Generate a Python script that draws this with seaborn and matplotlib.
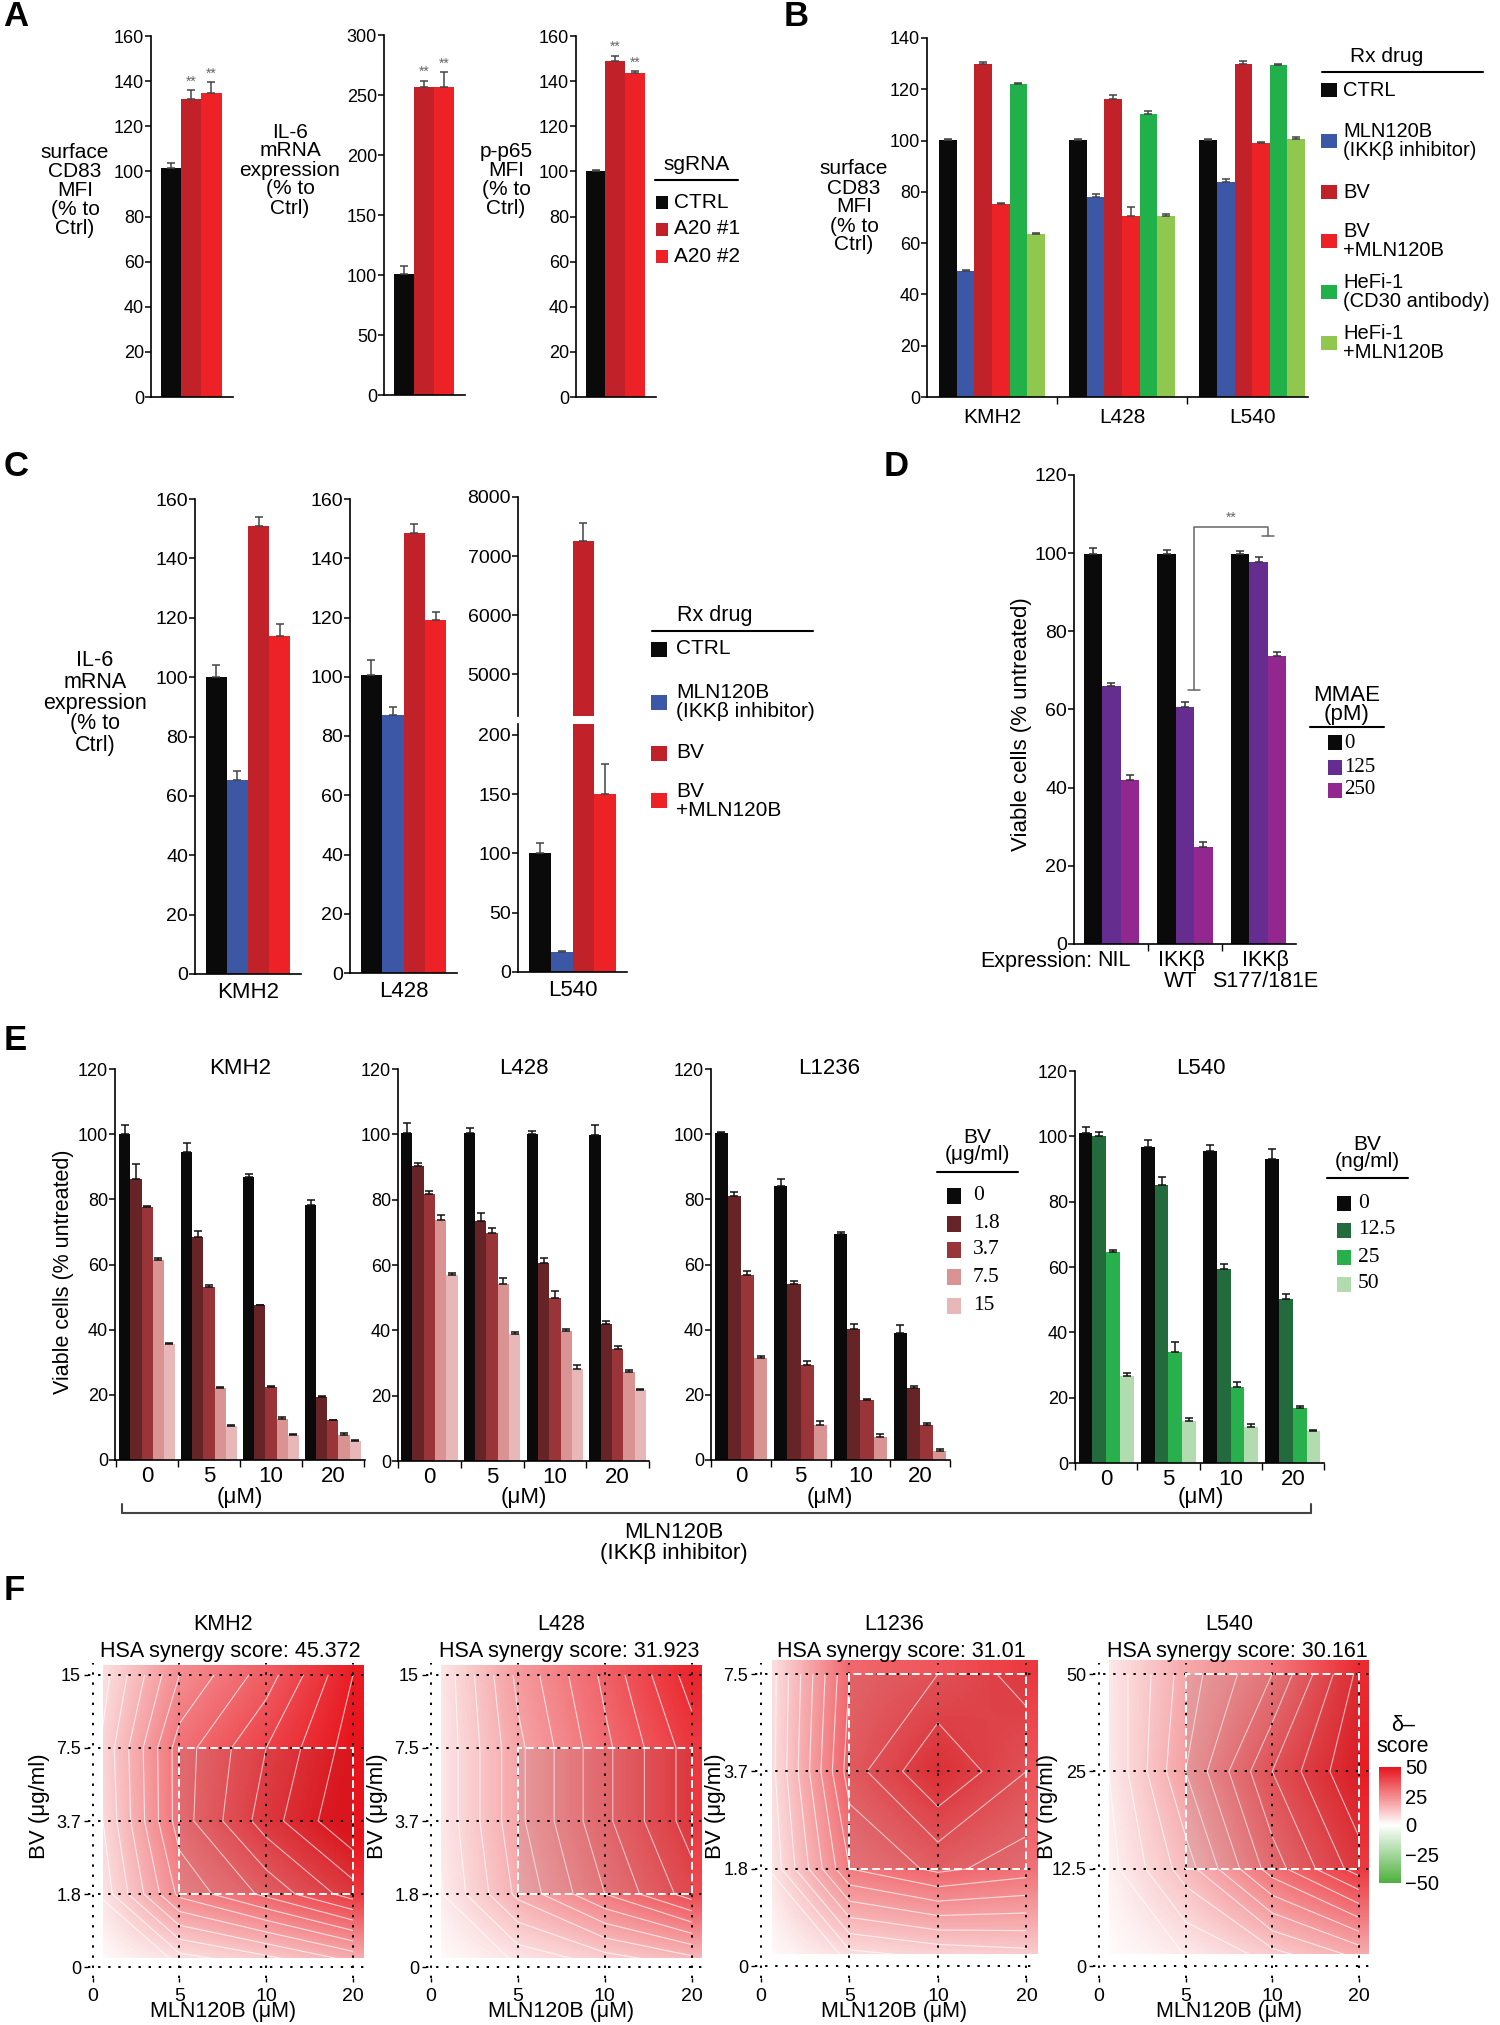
import numpy as np
import pandas as pd
import matplotlib
matplotlib.use("Agg")
import matplotlib.pyplot as plt
import seaborn as sns
from matplotlib.patches import Rectangle
from matplotlib.lines import Line2D
from matplotlib.container import BarContainer
from matplotlib.colors import LinearSegmentedColormap, Normalize
from matplotlib.cm import ScalarMappable

# ---------------- DATA ----------------
A_lines = ['CTRL', 'A20 #1', 'A20 #2']
A_cd83 = [101.6, 131.9, 134.9]
A_cd83_err = [1.9, 4.1, 4.8]
A_il6 = [100.6, 256.4, 256.4]
A_il6_err = [7.2, 5.6, 13.0]
A_pp65 = [100.0, 148.9, 143.4]
A_pp65_err = [0.7, 2.4, 0.9]

B_cells = ['KMH2', 'L428', 'L540']
B_drugs = ['CTRL', 'MLN120B\n(IKKβ inhibitor)', 'BV', 'BV\n+MLN120B',
           'HeFi-1\n(CD30 antibody)', 'HeFi-1\n+MLN120B']
B_values = [[100.1, 100.1, 100.1], [49.0, 78.0, 84.0], [129.9, 116.2, 129.7],
            [75.3, 70.5, 99.2], [121.9, 110.4, 129.5], [63.6, 70.5, 100.6]]
B_errors = [[0.4, 0.4, 0.4], [0.4, 1.0, 1.0], [0.7, 1.6, 1.5],
            [0.3, 3.5, 0.2], [0.5, 1.0, 0.5], [0.2, 0.7, 0.9]]

C_cells = ['KMH2', 'L428', 'L540']
C_drugs = ['CTRL', 'MLN120B\n(IKKβ inhibitor)', 'BV', 'BV\n+MLN120B']
C_values = [[100.2, 100.6, 100.0], [65.2, 87.0, 16.9], [150.9, 148.5, 7250.0], [113.9, 119.0, 150.0]]
C_errors = [[3.8, 5.1, 8.4], [3.3, 2.7, 0.9], [3.2, 2.9, 306.0], [4.1, 2.9, 25.0]]

D_expr = ['NIL', 'IKKβ\nWT', 'IKKβ\nS177/181E']
D_mmae = ['0', '125', '250']
D_values = [[99.8, 99.8, 99.8], [65.9, 60.6, 97.7], [41.9, 24.9, 73.8]]
D_errors = [[1.5, 0.9, 0.7], [0.8, 1.3, 1.2], [1.3, 1.2, 0.9]]

E_mln = ['0', '5', '10', '20']
E_bv_ug = ['0', '1.8', '3.7', '7.5', '15']
E_bv_ng = ['0', '12.5', '25', '50']
E_kmh2 = [[100.1, 94.4, 87.0, 78.3], [86.3, 68.5, 47.5, 19.3], [77.7, 53.0, 22.5, 12.2],
          [61.4, 22.1, 12.7, 7.6], [35.6, 10.4, 7.75, 5.8]]
E_kmh2_err = [[2.8, 3.0, 0.8, 1.5], [4.5, 1.8, 0.2, 0.3], [0.3, 0.8, 0.2, 0.2],
              [0.5, 0.3, 0.4, 0.6], [0.2, 0.3, 0.25, 0.2]]
E_l428 = [[100.4, 100.3, 100.2, 99.8], [90.3, 73.6, 60.5, 41.9], [81.6, 69.9, 49.8, 34.2],
          [73.9, 54.3, 39.8, 27.1], [56.9, 39.0, 28.2, 21.8]]
E_l428_err = [[3.0, 1.7, 0.7, 3.0], [0.8, 2.3, 1.6, 0.9], [1.1, 1.3, 2.1, 0.9],
              [1.3, 1.6, 0.7, 0.8], [0.8, 0.4, 1.2, 0.2]]
E_l1236 = [[100.4, 84.1, 69.3, 39.0], [81.0, 54.0, 40.2, 22.0], [56.7, 29.2, 18.3, 10.8],
           [31.3, 10.8, 7.2, 2.9]]
E_l1236_err = [[0.2, 2.1, 0.6, 2.3], [1.3, 1.0, 1.5, 0.6], [1.2, 1.3, 0.5, 0.6],
               [0.6, 1.1, 0.8, 0.5]]
E_l540 = [[100.9, 96.7, 95.6, 93.1], [100.2, 85.2, 59.3, 50.2], [64.7, 33.9, 23.3, 16.9],
          [26.7, 12.9, 11.0, 9.8]]
E_l540_err = [[1.9, 2.1, 1.6, 3.1], [1.2, 2.4, 1.7, 1.4], [0.6, 3.1, 1.4, 0.7],
              [0.7, 0.9, 0.8, 0.3]]

F_mln = ['0', '5', '10', '20']
F_bv_ug = ['0', '1.8', '3.7', '7.5', '15']
F_bv_l1236 = ['0', '1.8', '3.7', '7.5']
F_bv_ng = ['0', '12.5', '25', '50']
F_cells = ['KMH2', 'L428', 'L1236', 'L540']
F_scores = ['45.372', '31.923', '31.01', '30.161']
F_kmh2 = [[0, 4, 8, 14], [3, 25, 33, 42], [5, 30, 42, 52], [6, 30, 40, 50], [4, 24, 34, 48]]
F_l428 = [[0, 4, 8, 12], [2, 17, 28, 38], [3, 19, 31, 42], [3, 19, 31, 42], [3, 21, 33, 46]]
F_l1236 = [[0, 4, 6, 8], [2, 28, 33, 30], [3, 34, 44, 36], [3, 32, 36, 42]]
F_l540 = [[0, 3, 8, 14], [1, 14, 30, 42], [2, 20, 36, 48], [3, 18, 28, 45]]

# ---------------- STYLE ----------------
W, H = 1500, 2025
sns.set_theme(style='ticks')
COND = ['Liberation Sans Narrow', 'Liberation Sans', 'DejaVu Sans']
ARIAL = ['Liberation Sans', 'DejaVu Sans']
SERIF = ['Liberation Serif', 'DejaVu Serif']
plt.rcParams['font.family'] = COND
plt.rcParams.update({'axes.edgecolor': 'black', 'xtick.color': 'black', 'ytick.color': 'black',
                     'text.color': 'black', 'axes.labelcolor': 'black', 'axes.linewidth': 1.2})

fig = plt.figure(figsize=(15, 20.25), dpi=100)


def box(l, t, r, b):
    return fig.add_axes([l / W, 1 - b / H, (r - l) / W, (b - t) / H])


def T(x, y, s, **kw):
    kw.setdefault('ha', 'center')
    kw.setdefault('va', 'center')
    fig.text(x / W, 1 - y / H, s, **kw)


def hline(x0, x1, y, **kw):
    fig.add_artist(Line2D([x0 / W, x1 / W], [1 - y / H, 1 - y / H], transform=fig.transFigure, **kw))


def vline(x, y0, y1, **kw):
    fig.add_artist(Line2D([x / W, x / W], [1 - y0 / H, 1 - y1 / H], transform=fig.transFigure, **kw))


def square(x0, yc, w, h, c):
    fig.add_artist(Rectangle((x0 / W, 1 - (yc + h / 2) / H), w / W, h / H,
                             transform=fig.transFigure, facecolor=c, edgecolor='none'))


def bars(ax, groups, hues, vals, errs, colors, width, ecolor='#333'):
    rows = []
    for hi, h in enumerate(hues):
        for gi, g in enumerate(groups):
            rows.append(dict(group=g, hue=h, value=vals[hi][gi]))
    df = pd.DataFrame(rows)
    sns.barplot(data=df, x='group', y='value', hue='hue', order=groups, hue_order=hues,
                palette=dict(zip(hues, colors)), width=width, gap=0, saturation=1,
                errorbar=None, legend=False, linewidth=0, ax=ax)
    conts = [c for c in ax.containers if isinstance(c, BarContainer)]
    for hi, cont in enumerate(conts):
        for gi, p in enumerate(cont.patches):
            cx = p.get_x() + p.get_width() / 2
            ax.errorbar(cx, p.get_height(), yerr=[[0], [errs[hi][gi]]], fmt='none',
                        ecolor=ecolor, elinewidth=1.1, capsize=3, capthick=1.1)
    return conts


def style(ax, xlim, ylim, yticks, labelsize=13, fam=COND):
    ax.set_xlim(*xlim)
    ax.set_ylim(*ylim)
    ax.set_yticks(yticks)
    ax.set_xlabel('')
    ax.set_ylabel('')
    sns.despine(ax=ax)
    ax.set_facecolor('none')
    ax.tick_params(axis='y', direction='out', length=4, width=1.1, pad=1, labelsize=labelsize)
    for lab in ax.get_yticklabels():
        lab.set_fontfamily(fam)


def letter(x, y, s):
    T(x, y, s, fontsize=25, fontweight='bold', family=ARIAL)


# ---------------- PANEL A ----------------
letter(16, 17, 'A')
A_colors = ['#0a0a0a', '#c1222a', '#ec2227']
A_sets = [(A_cd83, A_cd83_err, (151, 36, 233, 397), (0, 160), range(0, 161, 20)),
          (A_il6, A_il6_err, (384, 35, 465, 395), (0, 300), range(0, 301, 50)),
          (A_pp65, A_pp65_err, (576, 36, 656, 397), (0, 160), range(0, 161, 20))]
for vals, errs, px, yl, yt in A_sets:
    ax = box(*px)
    conts = bars(ax, ['g'], A_lines, [[v] for v in vals], [[e] for e in errs], A_colors, 0.8, ecolor='#444')
    style(ax, (-0.53, 0.55), yl, list(yt), labelsize=13)
    ax.set_xticks([])
    for hi in (1, 2):
        p = conts[hi].patches[0]
        ax.annotate('**', (p.get_x() + p.get_width() / 2, vals[hi] + errs[hi]), xytext=(0, 1),
                    textcoords='offset points', ha='center', va='bottom', fontsize=10, color='#666')
T(75, 190, 'surface\nCD83\nMFI\n(% to\nCtrl)', fontsize=15, linespacing=1.0)
T(290, 170, 'IL-6\nmRNA\nexpression\n(% to\nCtrl)', fontsize=15, linespacing=1.0)
T(506, 180, 'p-p65\nMFI\n(% to\nCtrl)', fontsize=15, linespacing=1.0)
T(697, 164, 'sgRNA', fontsize=15)
hline(655, 738, 180, color='black', lw=1.5)
for y, lab, c in zip([202, 229, 256], A_lines, A_colors):
    square(656, y, 12, 13, c)
    T(674, y, lab, ha='left', fontsize=15)

# ---------------- PANEL B ----------------
letter(796, 17, 'B')
B_colors = ['#0a0a0a', '#3b57a6', '#c1222a', '#ec2227', '#22b04b', '#90c74f']
ax = box(927, 38, 1308, 397)
bars(ax, B_cells, B_drugs, B_values, B_errors, B_colors, 0.81, ecolor='#444')
style(ax, (-0.5, 2.43), (0, 140), list(range(0, 141, 20)), labelsize=13)
ax.set_xticks([0, 1, 2], B_cells)
ax.set_xticks([0.5, 1.5], minor=True)
ax.tick_params(axis='x', which='major', length=0, pad=8, labelsize=15)
ax.tick_params(axis='x', which='minor', length=5, width=1)
T(854, 207, 'surface\nCD83\nMFI\n(% to\nCtrl)', fontsize=15, linespacing=1.0)
T(1387, 56, 'Rx drug', fontsize=15)
hline(1322, 1483, 72, color='black', lw=1.5)
for y, lab, c in zip([90, 141, 192, 241, 292, 343], B_drugs, B_colors):
    square(1321, y, 16, 14, c)
    T(1343, y, lab, ha='left', fontsize=14.5, linespacing=1.0)

# ---------------- PANEL C ----------------
letter(16, 467, 'C')
C_colors = ['#0a0a0a', '#3b57a6', '#c1222a', '#ec2227']
for ci, (px, yl, yt) in enumerate([((195, 499, 301, 974), (0, 160), range(0, 161, 20)),
                                   ((350, 499, 457, 973), (0, 160), range(0, 161, 20))]):
    ax = box(*px)
    bars(ax, [C_cells[ci]], C_drugs, [[v[ci]] for v in C_values], [[e[ci]] for e in C_errors],
         C_colors, 0.8, ecolor='#444')
    style(ax, (-0.5, 0.5), yl, list(yt), labelsize=14)
    ax.tick_params(axis='x', length=0, pad=6, labelsize=16)
# L540 broken axis
axl = box(518, 724, 627, 972)
axu = box(518, 497, 627, 716)
for a in (axl, axu):
    bars(a, [C_cells[2]], C_drugs, [[v[2]] for v in C_values], [[e[2]] for e in C_errors],
         C_colors, 0.8, ecolor='#444')
style(axl, (-0.5, 0.5), (0, 209), [0, 50, 100, 150, 200], labelsize=14)
axl.tick_params(axis='x', length=0, pad=6, labelsize=16)
style(axu, (-0.5, 0.5), (4290, 8000), [5000, 6000, 7000, 8000], labelsize=14)
axu.spines['bottom'].set_visible(False)
axu.set_xticks([])
T(95, 703, 'IL-6\nmRNA\nexpression\n(% to\nCtrl)', fontsize=15.5, linespacing=1.0)
T(715, 616, 'Rx drug', fontsize=15.5)
hline(652, 813, 631, color='black', lw=1.5)
for y, lab, c in zip([649, 702, 753, 801], C_drugs, C_colors):
    square(651, y, 16, 15, c)
    T(676, y, lab, ha='left', fontsize=15, linespacing=1.0)

# ---------------- PANEL D ----------------
letter(896, 467, 'D')
D_colors = ['#0a0a0a', '#652d90', '#92278f']
ax = box(1074, 475, 1296, 944)
bars(ax, D_expr, D_mmae, D_values, D_errors, D_colors, 0.75, ecolor='#333')
style(ax, (-0.51, 2.51), (0, 120), list(range(0, 121, 20)), labelsize=14, fam=ARIAL)
ax.set_xticks([0, 1, 2], ['', '', ''])
ax.set_xticks([0.5, 1.5], minor=True)
ax.tick_params(axis='x', which='major', length=0)
ax.tick_params(axis='x', which='minor', length=5, width=1)
for xc, lab in zip([1114, 1181, 1265], D_expr):
    T(xc, 950, lab, va='top', fontsize=15.5, family=ARIAL, linespacing=1.0)
bw = 0.75 / 3
xl, xr = 1 + bw / 2, 2 + bw / 2
ax.plot([xl - 0.08, xl + 0.08], [65, 65], color='#666', lw=1.1)
ax.plot([xl, xl, xr, xr], [65, 106.6, 106.6, 104.5], color='#666', lw=1.1)
ax.plot([xr - 0.08, xr + 0.08], [104.5, 104.5], color='#666', lw=1.1)
ax.text((xl + xr) / 2, 107.2, '**', ha='center', va='bottom', fontsize=10, color='#666')
T(1021, 724, 'Viable cells (% untreated)', rotation=90, fontsize=16, family=ARIAL)
T(1092, 962, 'Expression:', ha='right', fontsize=15.5, family=ARIAL)
T(1347, 705, 'MMAE\n(pM)', fontsize=16, family=ARIAL, linespacing=0.9)
hline(1310, 1384, 727, color='black', lw=1.5)
for y, lab, c in zip([743, 767, 790], D_mmae, D_colors):
    square(1328, y, 14, 15, c)
    T(1344, y, lab, ha='left', fontsize=15, family=SERIF)

# ---------------- PANEL E ----------------
letter(15, 1040, 'E')
E_ug_colors = ['#0a0a0a', '#662426', '#993538', '#d99393', '#e8b7b7']
E_ng_colors = ['#0a0a0a', '#236a3d', '#28b04d', '#b2dcb0']
E_sets = [('KMH2', E_kmh2, E_kmh2_err, E_bv_ug, E_ug_colors, (115, 1069, 365, 1460), (-0.52, 3.52), 0.9),
          ('L428', E_l428, E_l428_err, E_bv_ug, E_ug_colors, (398, 1069, 649, 1461), (-0.48, 3.48), 0.9),
          ('L1236', E_l1236, E_l1236_err, E_bv_ug[:4], E_ug_colors[:4], (711, 1069, 950, 1460), (-0.42, 3.45), 0.88),
          ('L540', E_l540, E_l540_err, E_bv_ng, E_ng_colors, (1075, 1071, 1324, 1463), (-0.49, 3.46), 0.88)]
for name, vals, errs, hues, cols, px, xlim, wd in E_sets:
    ax = box(*px)
    bars(ax, E_mln, hues, vals, errs, cols, wd, ecolor='#111')
    style(ax, xlim, (0, 120), list(range(0, 121, 20)), labelsize=13)
    ax.set_xticks([0, 1, 2, 3], E_mln)
    ax.set_xticks([-0.5, 0.5, 1.5, 2.5, 3.5], minor=True)
    ax.tick_params(axis='x', which='major', length=0, pad=4, labelsize=16)
    ax.tick_params(axis='x', which='minor', length=5, width=1)
    fx = lambda d, px=px, xlim=xlim: px[0] + (d - xlim[0]) / (xlim[1] - xlim[0]) * (px[2] - px[0])
    T((fx(0) + fx(3)) / 2 + 0, 1069, name, fontsize=16)
    T((fx(0) + fx(3)) / 2, 1497, '(μM)', fontsize=16)
T(63, 1272, 'Viable cells (% untreated)', rotation=90, fontsize=15.5, family=ARIAL)
T(977, 1146, 'BV\n(μg/ml)', fontsize=15, linespacing=0.85)
hline(937, 1018, 1172, color='black', lw=1.5)
for y, lab, c in zip([1196, 1224, 1250, 1277, 1306], E_bv_ug, E_ug_colors):
    square(947, y, 14, 16, c)
    T(973, y, lab, ha='left', fontsize=15.5, family=SERIF)
T(1367, 1153, 'BV\n(ng/ml)', fontsize=15, linespacing=0.85)
hline(1327, 1408, 1178, color='black', lw=1.5)
for y, lab, c in zip([1203, 1230, 1257, 1284], E_bv_ng, E_ng_colors):
    square(1337, y, 14, 15, c)
    T(1358, y, lab, ha='left', fontsize=15.5, family=SERIF)
hline(122, 1311, 1513, color='#444', lw=1.5)
vline(122, 1504, 1513, color='#444', lw=1.5)
vline(1311, 1504, 1513, color='#444', lw=1.5)
T(674, 1543, 'MLN120B\n(IKKβ inhibitor)', fontsize=16, linespacing=1.05)

# ---------------- PANEL F ----------------
letter(14, 1590, 'F')
cmap = LinearSegmentedColormap.from_list('delta', ['#4cb03c', '#ffffff', '#e8141c'])
F_sets = [(F_kmh2, F_bv_ug, 'BV (μg/ml)', (88, 1663, 366, 1978), (-0.052, 3.15), (-0.15, 4.164), 39),
          (F_l428, F_bv_ug, 'BV (μg/ml)', (426, 1663, 704, 1978), (-0.057, 3.14), (-0.15, 4.164), 377),
          (F_l1236, F_bv_l1236, 'BV (μg/ml)', (755, 1663, 1037, 1978), (-0.068, 3.12), (-0.123, 3.114), 716),
          (F_l540, F_bv_ng, 'BV (ng/ml)', (1093, 1663, 1370, 1978), (-0.07, 3.13), (-0.123, 3.114), 1048)]
for (Z, ylabs, ylab, px, xlim, ylim, ylx), cell, score in zip(F_sets, F_cells, F_scores):
    Z = np.asarray(Z, float)
    ny, nx = Z.shape
    ax = box(*px)
    im = ax.imshow(Z, origin='lower', extent=(-0.5, nx - 0.5, -0.5, ny - 0.5), cmap=cmap,
                   vmin=-50, vmax=50, interpolation='bilinear', aspect='auto', zorder=0)
    clip = Rectangle((0.12, 0.12), nx - 1, ny - 1 + 0.02, transform=ax.transData)
    im.set_clip_path(clip)
    ax.contour(np.arange(nx), np.arange(ny), Z, levels=np.arange(4, 56, 4), colors='white',
               linewidths=0.8, alpha=0.7, zorder=1)
    ax.add_patch(Rectangle((1, 1), 2, 2, facecolor='#303030', alpha=0.08, edgecolor='none', zorder=1.5))
    ax.add_patch(Rectangle((1, 1), 2, 2, facecolor='none', edgecolor='white', lw=1.4,
                           linestyle=(0, (4, 2)), zorder=3))
    ax.set_xlim(*xlim)
    ax.set_ylim(*ylim)
    ax.set_xticks(range(nx), F_mln)
    ax.set_yticks(range(ny), ylabs)
    ax.set_axisbelow(False)
    ax.grid(True, color='black', linestyle=(0, (1.2, 4)), linewidth=1.4)
    for s in ax.spines.values():
        s.set_visible(False)
    ax.tick_params(axis='both', length=3, width=1, pad=2, labelsize=13)
    ax.tick_params(axis='x', pad=4, labelsize=14)
    fx = lambda d, px=px, xlim=xlim: px[0] + (d - xlim[0]) / (xlim[1] - xlim[0]) * (px[2] - px[0])
    xc = (fx(0) + fx(3)) / 2
    T(xc, 1625, cell, fontsize=15.5)
    T(xc + 8, 1651, 'HSA synergy score: ' + score, fontsize=15.5)
    T(xc, 2012, 'MLN120B (μM)', fontsize=15.5)
    T(ylx, 1806, ylab, rotation=90, fontsize=16, family=ARIAL)

cax = box(1379, 1767, 1401, 1883)
cb = fig.colorbar(ScalarMappable(norm=Normalize(-50, 50), cmap=cmap), cax=cax, ticks=[-50, -25, 0, 25, 50])
cb.outline.set_visible(False)
cb.ax.set_yticklabels(['−50', '−25', '0', '25', '50'])
cb.ax.tick_params(direction='in', color='white', length=4, width=1, labelsize=14.5, pad=3)
T(1403, 1736, 'δ–\nscore', fontsize=15.5, linespacing=1.0)

fig.savefig('out.png', dpi=100)
